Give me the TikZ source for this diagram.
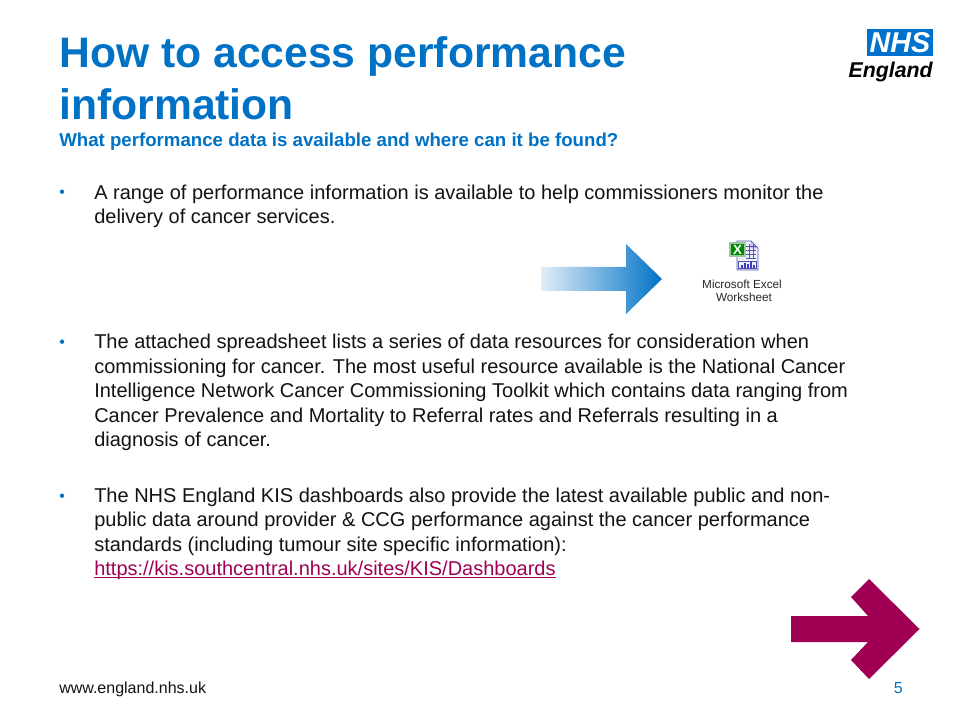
\documentclass[tikz,border=0pt]{standalone}
\usepackage{fontspec}
\setmainfont{Liberation Sans}
\definecolor{nhsblue}{HTML}{0072CE}
\definecolor{titleblue}{HTML}{0072C6}
\definecolor{magentaarrow}{HTML}{A00054}
\definecolor{linkred}{HTML}{A00054}
\definecolor{bodyink}{HTML}{141213}
\tikzset{
 bodyline/.style={anchor=base west,inner sep=0pt,font=\fontsize{15pt}{18pt}\selectfont,text=bodyink},
 titleline/.style={anchor=base west,inner sep=0pt,font=\fontsize{32pt}{38pt}\selectfont\bfseries,text=titleblue},
 bulletmark/.style={anchor=base west,inner sep=0pt,font=\fontsize{12pt}{18pt}\selectfont,text=titleblue},
 smallline/.style={inner sep=0pt,font=\fontsize{12pt}{14pt}\selectfont},
 iconcaption/.style={anchor=base,inner sep=0pt,font=\fontsize{8.8pt}{10pt}\selectfont,text=black!85},
}
\begin{document}
\begin{tikzpicture}[x=0.75pt,y=-0.75pt]
\useasboundingbox (0,0) rectangle (960,720);
\fill[white] (0,0) rectangle (960,720);
\node[titleline] (t1) at (59,67.5) {How to access performance};
\node[titleline] (t2) at (59,119.5) {information};
\node[anchor=base west,inner sep=0pt,font=\fontsize{14pt}{16pt}\selectfont\bfseries,text=titleblue] (st) at (59,146.5) {What performance data is available and where can it be found?};
\node[bulletmark] (b1) at (59,198) {•};
\node[bodyline] (l1) at (94,199.5) {A range of performance information is available to help commissioners monitor the};
\node[bodyline] (l2) at (94,224) {delivery of cancer services.};
\node[bulletmark] (b2) at (59,347.5) {•};
\node[bodyline] (l3) at (94,349) {The attached spreadsheet lists a series of data resources for consideration when};
\node[bodyline] (l4) at (94,373.5) {commissioning for cancer. The most useful resource available is the National Cancer};
\node[bodyline] (l5) at (94,397.5) {Intelligence Network Cancer Commissioning Toolkit which contains data ranging from};
\node[bodyline] (l6) at (94,422) {Cancer Prevalence and Mortality to Referral rates and Referrals resulting in a};
\node[bodyline] (l7) at (94,446) {diagnosis of cancer.};
\node[bulletmark] (b3) at (59,501) {•};
\node[bodyline] (l8) at (94,502.5) {The NHS England KIS dashboards also provide the latest available public and non-};
\node[bodyline] (l9) at (94,526.5) {public data around provider \& CCG performance against the cancer performance};
\node[bodyline] (l10) at (94,551) {standards (including tumour site specific information):};
\node[bodyline,text=linkred] (l11) at (94,575) {https://kis.southcentral.nhs.uk/sites/KIS/Dashboards};
\draw[linkred,line width=0.8pt] (94,577.5) -- (l11.base east |- 0,577.5);
\node[smallline,anchor=base west,text=bodyink] (f) at (59,693) {www.england.nhs.uk};
\node[smallline,anchor=base east,text=titleblue] (n) at (903,693) {5};
% gradient arrow
\begin{scope}
\clip (541,267) -- (626,267) -- (626,244) -- (662,279) -- (626,314) -- (626,291) -- (541,291) -- cycle;
\shade[left color=titleblue!12,middle color=titleblue!55,right color=titleblue] (541,240) rectangle (662,318);
\end{scope}
% magenta arrow
\fill[magentaarrow] (791,616) -- (868,616) -- (851,597) -- (869,579) -- (919.5,629) -- (869,679) -- (851,660) -- (868,642) -- (791,642) -- cycle;
% NHS logo
\fill[nhsblue] (867,29) rectangle (933,56);
\node[anchor=center,inner sep=0pt,font=\fontsize{21.5pt}{22pt}\selectfont\bfseries\itshape,text=white] (nhs) at (900,42.5) {NHS};
\node[anchor=base east,inner sep=0pt,font=\fontsize{16pt}{18pt}\selectfont\bfseries\itshape,text=black] (eng) at (933,78) {England};
% Excel icon
\fill[blue!6,draw=blue!35!gray,line width=0.5pt] (737,241) -- (751,241) -- (758,248) -- (758,270) -- (737,270) -- cycle;
\fill[blue!18,draw=blue!35!gray,line width=0.3pt] (751,241) -- (751,248) -- (758,248) -- cycle;
\foreach \yy in {246,250,254,258} \draw[blue!35!gray,line width=0.3pt] (746,\yy) -- (756,\yy);
\foreach \xx in {749,753} \draw[blue!35!gray,line width=0.3pt] (\xx,244) -- (\xx,259);
\draw[blue!40!gray,line width=0.4pt] (738,261) rectangle (756,268.5);
\foreach \xx/\hh in {742/3,745/5,748/4,751/6,754/3} \draw[blue!55!gray,line width=1pt] (\xx,268) -- (\xx,268-\hh);
\fill[green!55!black,draw=green!30!gray!60,line width=0.8pt] (730,243) rectangle (745,256);
\node[inner sep=0pt,font=\fontsize{10pt}{11pt}\selectfont\bfseries,text=white] (x) at (737.5,249.5) {X};
\node[iconcaption] (c1) at (742,288) {Microsoft Excel};
\node[iconcaption] (c2) at (744,301.5) {Worksheet};
\end{tikzpicture}
\end{document}
